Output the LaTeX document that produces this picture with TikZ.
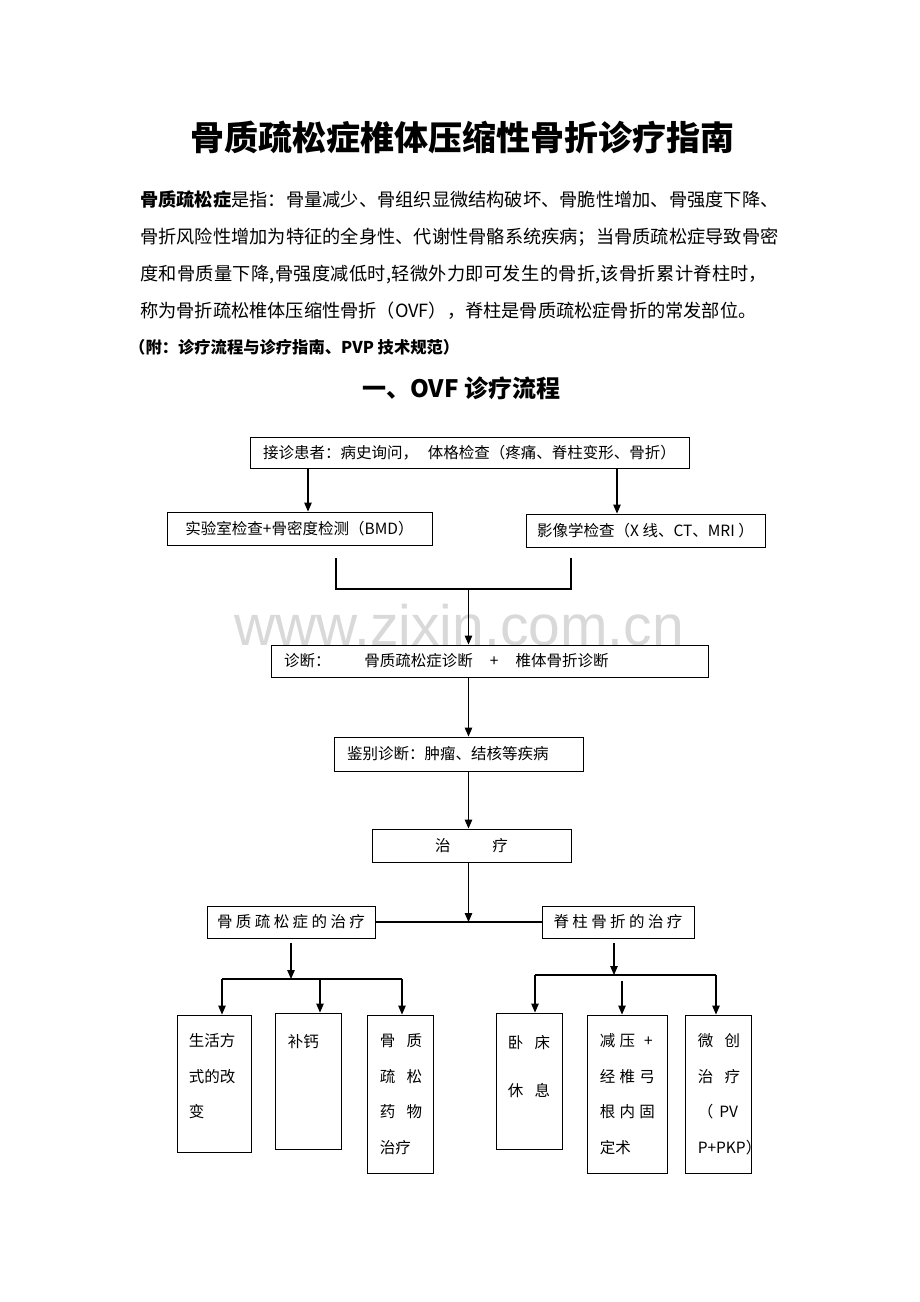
\documentclass[tikz,border=0pt]{standalone}
\usepackage{fontspec}
\setmainfont{Noto Sans CJK SC}
\newfontfamily\wmfont{Liberation Sans}
\usetikzlibrary{positioning, arrows.meta}
\XeTeXlinebreaklocale "zh"
\XeTeXlinebreakskip=0pt plus 1pt

\begin{document}
\begin{tikzpicture}[x=1pt, y=-1pt,
  box/.style={draw, line width=0.9pt, inner sep=0pt, font=\fontsize{15.5}{15.5}\selectfont},
  spaced/.style={font=\fontsize{15.5}{15.5}\selectfont\addfontfeature{LetterSpace=22}},
  cell/.style={align=left, inner sep=0pt, font=\fontsize{15.5}{35.5}\selectfont},
  arr/.style={-{Triangle[length=9pt,width=7.5pt]}, line width=1.1pt},
  link/.style={line width=1.1pt}]
% page
\fill[white] (0,0) rectangle (920,1302);
\useasboundingbox (0,0) rectangle (920,1302);
% heading and introduction
\node[font=\bfseries\fontsize{34}{34}\selectfont] (title) at (462,137) {骨质疏松症椎体压缩性骨折诊疗指南};
\node[anchor=north west, text width=640pt, inner sep=0pt, font=\fontsize{18.2}{37}\selectfont] (intro) at (140,191)
  {\noindent{\bfseries 骨质疏松症}是指：骨量减少、骨组织显微结构破坏、骨脆性增加、骨强度下降、\linebreak
   骨折风险性增加为特征的全身性、代谢性骨骼系统疾病；当骨质疏松症导致骨密\linebreak
   度和骨质量下降,骨强度减低时,轻微外力即可发生的骨折,该骨折累计脊柱时，\linebreak
   称为骨折疏松椎体压缩性骨折（OVF），脊柱是骨质疏松症骨折的常发部位。};
\node[anchor=west, inner sep=0pt, font=\bfseries\fontsize{16.3}{16.3}\selectfont] (note) at (129,347) {（附：诊疗流程与诊疗指南、PVP 技术规范）};
\node[font=\bfseries\fontsize{24}{24}\selectfont] (sect) at (461,388) {一、OVF 诊疗流程};
% watermark
\node[anchor=base, inner sep=0pt, text=black!15, font=\wmfont\fontsize{57}{57}\selectfont] (wm) at (459,645) {www.zixin.com.cn};
% boxes
\node[box, minimum width=439pt, minimum height=31pt] (b1) at (469.5,452.5)
  {\makebox[413pt][l]{接诊患者：病史询问，\hspace{10pt}体格检查（疼痛、脊柱变形、骨折）}};
\node[box, minimum width=265pt, minimum height=33pt] (b2) at (299.5,528.5) {实验室检查+骨密度检测（BMD）};
\node[box, minimum width=239pt, minimum height=33pt] (b3) at (645.5,530.5) {影像学检查（X 线、CT、MRI ）};
\node[box, minimum width=437pt, minimum height=32pt] (b4) at (489.5,661)
  {\makebox[411pt][l]{诊断：\hspace{34pt}骨质疏松症诊断\hspace{17pt}+\hspace{17pt}椎体骨折诊断}};
\node[box, minimum width=249pt, minimum height=34pt] (b5) at (458.5,754) {\makebox[223pt][l]{鉴别诊断：肿瘤、结核等疾病}};
\node[box, minimum width=199pt, minimum height=33pt] (b6) at (471.5,845.5) {治\hspace{42pt}疗};
\node[box, spaced, minimum width=168pt, minimum height=32pt] (b7) at (291,922) {骨质疏松症的治疗};
\node[box, spaced, minimum width=152pt, minimum height=32pt] (b8) at (618,922) {脊柱骨折的治疗};
% treatment boxes
\node[box, minimum width=74pt, minimum height=137pt] (b9) at (214,1083.5) {};
\node[box, minimum width=66pt, minimum height=136pt] (b10) at (308,1081) {};
\node[box, minimum width=66pt, minimum height=158pt] (b11) at (400,1094) {};
\node[box, minimum width=66pt, minimum height=136pt] (b12) at (529,1081) {};
\node[box, minimum width=80pt, minimum height=158pt] (b13) at (627,1094) {};
\node[box, minimum width=66pt, minimum height=158pt] (b14) at (718,1094) {};
\node[cell, below right=19pt and 12pt of b9.north west] (t9) {生活方\\式的改\\变};
\node[cell, below right=22pt and 13pt of b10.north west] (t10) {补钙};
\node[cell, below right=19pt and 13pt of b11.north west] (t11) {骨\hspace{11.5pt}质\\疏\hspace{11.5pt}松\\药\hspace{11.5pt}物\\治疗};
\node[cell, below right=23pt and 12pt of b12.north west, font=\fontsize{15.5}{48}\selectfont] (t12) {卧\hspace{11.5pt}床\\休\hspace{11.5pt}息};
\node[cell, below right=19pt and 13pt of b13.north west] (t13) {减\hspace{4.3pt}压\hspace{9pt}+\\经\hspace{4.3pt}椎\hspace{4.3pt}弓\\根\hspace{4.3pt}内\hspace{4.3pt}固\\定术};
\node[cell, below right=19pt and 13pt of b14.north west] (t14) {微\hspace{11.5pt}创\\治\hspace{11.5pt}疗\\（\hspace{6pt}PV\\P+PKP）};
% connectors
\draw[arr] ([xshift=8.5pt]b2.north |- b1.south) -- ([xshift=8.5pt]b2.north);
\draw[arr] ([xshift=-28.5pt]b3.north |- b1.south) -- ([xshift=-28.5pt]b3.north);
\coordinate (kl) at (336,558);
\coordinate (kr) at (571,558);
\coordinate (km) at (468.5,589);
\draw[link] (kl) |- (km) -| (kr);
\draw[arr] (km) -- (km |- b4.north);
\draw[arr] (km |- b4.south) -- (km |- b5.north);
\draw[arr] (km |- b5.south) -- (km |- b6.north);
\draw[arr] (km |- b6.south) -- (km |- b7.east);
\draw[link] (b7.east) -- (b8.west);
% left branch
\coordinate (la) at (222,979);
\coordinate (lb) at (320,979);
\coordinate (lc) at (402,979);
\draw[arr] ([yshift=-5pt]b7.south) -- (b7.south |- la);
\draw[link] (la) -- (lc);
\draw[arr] (la) -- (la |- b9.north);
\draw[arr] (lb) -- (lb |- b10.north);
\draw[arr] (lc) -- (lc |- b11.north);
% right branch
\coordinate (ra) at (535,975);
\coordinate (rb) at (622,981);
\coordinate (rc) at (716,975);
\draw[arr] ([shift={(-4pt,-5pt)}]b8.south) -- ([xshift=-4pt]b8.south |- ra);
\draw[link] (ra) -- (rc);
\draw[arr] (ra) -- (ra |- b12.north);
\draw[arr] (rb) -- (rb |- b13.north);
\draw[arr] (rc) -- (rc |- b14.north);
\end{tikzpicture}
\end{document}
